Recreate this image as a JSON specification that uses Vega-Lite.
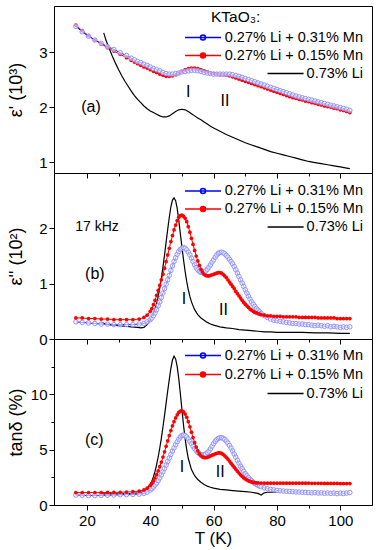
{
"$schema": "https://vega.github.io/schema/vega-lite/v6.json",
"padding": {"left": 6, "top": 5, "right": 5, "bottom": 2},
"spacing": 0,
"bounds": "flush",
"resolve": {"legend": {"color": "independent"}, "scale": {"color": "independent"}},
"config": {
  "view": {"stroke": "#000000", "strokeWidth": 1},
  "axis": {"grid": false, "domainColor": "#000000", "tickColor": "#000000", "labelColor": "#000000", "titleColor": "#000000", "labelFont": "Liberation Sans", "titleFont": "Liberation Sans", "labelFontSize": 15, "titleFontSize": 18, "titleFontWeight": "normal", "tickWidth": 1, "domainWidth": 1},
  "legend": {"labelFont": "Liberation Sans", "titleFont": "Liberation Sans", "labelColor": "#000000", "titleColor": "#000000", "labelFontSize": 14.5, "titleFontSize": 15.5, "titleFontWeight": "normal", "padding": 0, "rowPadding": 0, "symbolOffset": 0, "labelOffset": 2, "symbolSize": 1296, "symbolStrokeWidth": 1.5, "labelLimit": 200},
  "text": {"font": "Liberation Sans", "color": "#000000"}
},
"datasets": {
  "aB": [{"T":16.5,"v":3.47},{"T":18.5,"v":3.37},{"T":20.5,"v":3.29},{"T":22.5,"v":3.22},{"T":24.5,"v":3.16},{"T":26.5,"v":3.10},{"T":28.5,"v":3.05},{"T":30.5,"v":2.99},{"T":32.5,"v":2.94},{"T":34,"v":2.89},{"T":35,"v":2.86},{"T":36,"v":2.83},{"T":37,"v":2.81},{"T":38,"v":2.78},{"T":39,"v":2.76},{"T":40,"v":2.73},{"T":41,"v":2.70},{"T":42,"v":2.68},{"T":43,"v":2.66},{"T":44,"v":2.63},{"T":45,"v":2.61},{"T":46,"v":2.60},{"T":47,"v":2.60},{"T":48,"v":2.61},{"T":49,"v":2.62},{"T":50,"v":2.64},{"T":51,"v":2.65},{"T":52,"v":2.66},{"T":53,"v":2.67},{"T":54,"v":2.67},{"T":55,"v":2.66},{"T":56,"v":2.65},{"T":57,"v":2.63},{"T":58,"v":2.62},{"T":59,"v":2.61},{"T":60,"v":2.60},{"T":61,"v":2.60},{"T":62,"v":2.60},{"T":63,"v":2.60},{"T":64,"v":2.60},{"T":65,"v":2.60},{"T":66,"v":2.59},{"T":67,"v":2.575},{"T":68,"v":2.56},{"T":69,"v":2.54},{"T":70,"v":2.52},{"T":71,"v":2.50},{"T":72,"v":2.48},{"T":73,"v":2.46},{"T":74,"v":2.44},{"T":75,"v":2.42},{"T":76,"v":2.40},{"T":77,"v":2.38},{"T":78,"v":2.36},{"T":79,"v":2.34},{"T":80,"v":2.32},{"T":81,"v":2.30},{"T":82,"v":2.28},{"T":83,"v":2.26},{"T":84,"v":2.24},{"T":85,"v":2.22},{"T":86,"v":2.20},{"T":87,"v":2.185},{"T":88,"v":2.17},{"T":89,"v":2.155},{"T":90,"v":2.14},{"T":91,"v":2.125},{"T":92,"v":2.11},{"T":93,"v":2.095},{"T":94,"v":2.08},{"T":95,"v":2.065},{"T":96,"v":2.05},{"T":97,"v":2.035},{"T":98,"v":2.02},{"T":99,"v":2.005},{"T":100,"v":1.99},{"T":101,"v":1.975},{"T":102,"v":1.96},{"T":103,"v":1.94}],
  "aR": [{"T":16.5,"v":3.49},{"T":18.5,"v":3.39},{"T":20.5,"v":3.30},{"T":22.5,"v":3.22},{"T":24.5,"v":3.15},{"T":26.5,"v":3.08},{"T":28.5,"v":3.02},{"T":30.5,"v":2.96},{"T":32.5,"v":2.90},{"T":34,"v":2.85},{"T":35,"v":2.82},{"T":36,"v":2.79},{"T":37,"v":2.76},{"T":38,"v":2.73},{"T":39,"v":2.71},{"T":40,"v":2.68},{"T":41,"v":2.65},{"T":42,"v":2.63},{"T":43,"v":2.60},{"T":44,"v":2.58},{"T":45,"v":2.56},{"T":46,"v":2.56},{"T":47,"v":2.57},{"T":48,"v":2.59},{"T":49,"v":2.62},{"T":50,"v":2.65},{"T":51,"v":2.68},{"T":52,"v":2.70},{"T":53,"v":2.71},{"T":54,"v":2.71},{"T":55,"v":2.70},{"T":56,"v":2.68},{"T":57,"v":2.66},{"T":58,"v":2.64},{"T":59,"v":2.62},{"T":60,"v":2.61},{"T":61,"v":2.60},{"T":62,"v":2.59},{"T":63,"v":2.59},{"T":64,"v":2.58},{"T":65,"v":2.57},{"T":66,"v":2.55},{"T":67,"v":2.53},{"T":68,"v":2.51},{"T":69,"v":2.49},{"T":70,"v":2.47},{"T":71,"v":2.45},{"T":72,"v":2.43},{"T":73,"v":2.41},{"T":74,"v":2.39},{"T":75,"v":2.37},{"T":76,"v":2.35},{"T":77,"v":2.33},{"T":78,"v":2.31},{"T":79,"v":2.29},{"T":80,"v":2.27},{"T":81,"v":2.25},{"T":82,"v":2.23},{"T":83,"v":2.21},{"T":84,"v":2.19},{"T":85,"v":2.17},{"T":86,"v":2.16},{"T":87,"v":2.14},{"T":88,"v":2.13},{"T":89,"v":2.11},{"T":90,"v":2.10},{"T":91,"v":2.08},{"T":92,"v":2.07},{"T":93,"v":2.05},{"T":94,"v":2.04},{"T":95,"v":2.02},{"T":96,"v":2.01},{"T":97,"v":2.00},{"T":98,"v":1.98},{"T":99,"v":1.97},{"T":100,"v":1.95},{"T":101,"v":1.94},{"T":102,"v":1.92},{"T":103,"v":1.90}],
  "aK": [{"T":25.3,"v":3.35},{"T":26,"v":3.22},{"T":27,"v":3.07},{"T":28,"v":2.93},{"T":29,"v":2.80},{"T":30,"v":2.68},{"T":31,"v":2.57},{"T":32,"v":2.47},{"T":33,"v":2.38},{"T":34,"v":2.29},{"T":35,"v":2.21},{"T":36,"v":2.14},{"T":37,"v":2.08},{"T":38,"v":2.02},{"T":39,"v":1.97},{"T":40,"v":1.93},{"T":41,"v":1.90},{"T":42,"v":1.87},{"T":43,"v":1.84},{"T":44,"v":1.82},{"T":45,"v":1.82},{"T":46,"v":1.84},{"T":47,"v":1.88},{"T":48,"v":1.92},{"T":49,"v":1.95},{"T":50,"v":1.96},{"T":51,"v":1.95},{"T":52,"v":1.92},{"T":53,"v":1.88},{"T":54,"v":1.84},{"T":55,"v":1.80},{"T":56,"v":1.77},{"T":57,"v":1.73},{"T":58,"v":1.69},{"T":59,"v":1.65},{"T":60,"v":1.62},{"T":62,"v":1.56},{"T":64,"v":1.50},{"T":66,"v":1.45},{"T":68,"v":1.40},{"T":70,"v":1.35},{"T":72,"v":1.31},{"T":74,"v":1.27},{"T":76,"v":1.23},{"T":78,"v":1.19},{"T":80,"v":1.16},{"T":82,"v":1.13},{"T":84,"v":1.10},{"T":86,"v":1.07},{"T":88,"v":1.04},{"T":90,"v":1.01},{"T":92,"v":0.99},{"T":94,"v":0.97},{"T":96,"v":0.95},{"T":98,"v":0.93},{"T":100,"v":0.91},{"T":102,"v":0.89},{"T":103,"v":0.88}],
  "aT": [{"T":21.3,"v":2.0,"t":"(a)"},{"T":52,"v":2.28,"t":"I"},{"T":63.6,"v":2.11,"t":"II"}],
  "bB": [{"T":16.5,"v":0.31},{"T":18.5,"v":0.30},{"T":20.5,"v":0.29},{"T":22.5,"v":0.28},{"T":24.5,"v":0.27},{"T":26.5,"v":0.27},{"T":28.5,"v":0.26},{"T":30.5,"v":0.26},{"T":32.5,"v":0.26},{"T":34.5,"v":0.26},{"T":36.5,"v":0.27},{"T":38,"v":0.28},{"T":39,"v":0.31},{"T":40,"v":0.35},{"T":40.5,"v":0.38},{"T":41,"v":0.42},{"T":41.5,"v":0.47},{"T":42,"v":0.53},{"T":42.5,"v":0.60},{"T":43,"v":0.67},{"T":43.5,"v":0.75},{"T":44,"v":0.83},{"T":44.5,"v":0.91},{"T":45,"v":0.99},{"T":45.5,"v":1.07},{"T":46,"v":1.15},{"T":46.5,"v":1.24},{"T":47,"v":1.32},{"T":47.5,"v":1.40},{"T":48,"v":1.47},{"T":48.5,"v":1.53},{"T":49,"v":1.58},{"T":49.5,"v":1.62},{"T":50,"v":1.64},{"T":50.5,"v":1.65},{"T":51,"v":1.64},{"T":51.5,"v":1.61},{"T":52,"v":1.57},{"T":52.5,"v":1.52},{"T":53,"v":1.46},{"T":53.5,"v":1.40},{"T":54,"v":1.34},{"T":54.5,"v":1.29},{"T":55,"v":1.25},{"T":55.5,"v":1.22},{"T":56,"v":1.20},{"T":56.5,"v":1.20},{"T":57,"v":1.21},{"T":57.5,"v":1.23},{"T":58,"v":1.26},{"T":58.5,"v":1.30},{"T":59,"v":1.34},{"T":59.5,"v":1.39},{"T":60,"v":1.43},{"T":60.5,"v":1.48},{"T":61,"v":1.52},{"T":61.5,"v":1.55},{"T":62,"v":1.56},{"T":62.5,"v":1.57},{"T":63,"v":1.56},{"T":63.5,"v":1.54},{"T":64,"v":1.51},{"T":64.5,"v":1.48},{"T":65,"v":1.44},{"T":65.5,"v":1.40},{"T":66,"v":1.36},{"T":66.5,"v":1.31},{"T":67,"v":1.25},{"T":67.5,"v":1.19},{"T":68,"v":1.13},{"T":68.5,"v":1.07},{"T":69,"v":1.01},{"T":69.5,"v":0.95},{"T":70,"v":0.89},{"T":70.5,"v":0.83},{"T":71,"v":0.77},{"T":71.5,"v":0.72},{"T":72,"v":0.67},{"T":72.5,"v":0.63},{"T":73,"v":0.59},{"T":73.5,"v":0.55},{"T":74,"v":0.52},{"T":74.5,"v":0.49},{"T":75,"v":0.46},{"T":76,"v":0.42},{"T":77,"v":0.39},{"T":78,"v":0.36},{"T":79,"v":0.34},{"T":80,"v":0.33},{"T":81,"v":0.32},{"T":82,"v":0.31},{"T":83,"v":0.30},{"T":84,"v":0.29},{"T":85,"v":0.28},{"T":86,"v":0.28},{"T":87,"v":0.27},{"T":88,"v":0.27},{"T":89,"v":0.26},{"T":90,"v":0.26},{"T":91,"v":0.25},{"T":92,"v":0.24},{"T":93,"v":0.25},{"T":94,"v":0.24},{"T":95,"v":0.23},{"T":96,"v":0.24},{"T":97,"v":0.22},{"T":98,"v":0.23},{"T":99,"v":0.22},{"T":100,"v":0.21},{"T":101,"v":0.22},{"T":102,"v":0.21},{"T":103,"v":0.22}],
  "bR": [{"T":16.5,"v":0.38},{"T":18.5,"v":0.38},{"T":20.5,"v":0.37},{"T":22.5,"v":0.37},{"T":24.5,"v":0.36},{"T":26.5,"v":0.36},{"T":28.5,"v":0.35},{"T":30.5,"v":0.35},{"T":32.5,"v":0.35},{"T":34.5,"v":0.35},{"T":36.5,"v":0.36},{"T":38,"v":0.39},{"T":39,"v":0.43},{"T":40,"v":0.50},{"T":40.5,"v":0.55},{"T":41,"v":0.62},{"T":41.5,"v":0.70},{"T":42,"v":0.79},{"T":42.5,"v":0.88},{"T":43,"v":0.97},{"T":43.5,"v":1.07},{"T":44,"v":1.17},{"T":44.5,"v":1.28},{"T":45,"v":1.40},{"T":45.5,"v":1.52},{"T":46,"v":1.64},{"T":46.5,"v":1.76},{"T":47,"v":1.87},{"T":47.5,"v":1.97},{"T":48,"v":2.06},{"T":48.5,"v":2.14},{"T":49,"v":2.20},{"T":49.5,"v":2.23},{"T":50,"v":2.24},{"T":50.5,"v":2.22},{"T":51,"v":2.18},{"T":51.5,"v":2.12},{"T":52,"v":2.03},{"T":52.5,"v":1.93},{"T":53,"v":1.82},{"T":53.5,"v":1.71},{"T":54,"v":1.60},{"T":54.5,"v":1.50},{"T":55,"v":1.41},{"T":55.5,"v":1.33},{"T":56,"v":1.26},{"T":56.5,"v":1.21},{"T":57,"v":1.17},{"T":57.5,"v":1.15},{"T":58,"v":1.14},{"T":58.5,"v":1.14},{"T":59,"v":1.15},{"T":59.5,"v":1.16},{"T":60,"v":1.17},{"T":60.5,"v":1.18},{"T":61,"v":1.19},{"T":61.5,"v":1.20},{"T":62,"v":1.20},{"T":62.5,"v":1.19},{"T":63,"v":1.17},{"T":63.5,"v":1.14},{"T":64,"v":1.11},{"T":64.5,"v":1.07},{"T":65,"v":1.03},{"T":65.5,"v":0.99},{"T":66,"v":0.95},{"T":66.5,"v":0.91},{"T":67,"v":0.86},{"T":67.5,"v":0.82},{"T":68,"v":0.78},{"T":68.5,"v":0.74},{"T":69,"v":0.70},{"T":69.5,"v":0.66},{"T":70,"v":0.63},{"T":70.5,"v":0.60},{"T":71,"v":0.57},{"T":71.5,"v":0.54},{"T":72,"v":0.52},{"T":72.5,"v":0.50},{"T":73,"v":0.48},{"T":73.5,"v":0.47},{"T":74,"v":0.46},{"T":74.5,"v":0.45},{"T":75,"v":0.44},{"T":76,"v":0.43},{"T":77,"v":0.42},{"T":78,"v":0.42},{"T":79,"v":0.41},{"T":80,"v":0.41},{"T":81,"v":0.41},{"T":82,"v":0.40},{"T":83,"v":0.40},{"T":84,"v":0.40},{"T":85,"v":0.40},{"T":86,"v":0.40},{"T":87,"v":0.39},{"T":88,"v":0.39},{"T":89,"v":0.39},{"T":90,"v":0.39},{"T":91,"v":0.39},{"T":92,"v":0.39},{"T":93,"v":0.38},{"T":94,"v":0.38},{"T":95,"v":0.38},{"T":96,"v":0.38},{"T":97,"v":0.38},{"T":98,"v":0.38},{"T":99,"v":0.37},{"T":100,"v":0.37},{"T":101,"v":0.37},{"T":102,"v":0.37},{"T":103,"v":0.37}],
  "bK": [{"T":24.5,"v":0.30},{"T":26,"v":0.27},{"T":28,"v":0.25},{"T":30,"v":0.24},{"T":32,"v":0.23},{"T":34,"v":0.22},{"T":36,"v":0.21},{"T":37,"v":0.20},{"T":38,"v":0.21},{"T":39,"v":0.26},{"T":40,"v":0.34},{"T":41,"v":0.46},{"T":42,"v":0.64},{"T":42.5,"v":0.77},{"T":43,"v":0.92},{"T":43.5,"v":1.10},{"T":44,"v":1.30},{"T":44.5,"v":1.52},{"T":45,"v":1.75},{"T":45.5,"v":1.98},{"T":46,"v":2.20},{"T":46.5,"v":2.39},{"T":47,"v":2.51},{"T":47.5,"v":2.55},{"T":48,"v":2.50},{"T":48.5,"v":2.36},{"T":49,"v":2.14},{"T":49.5,"v":1.90},{"T":50,"v":1.66},{"T":50.5,"v":1.43},{"T":51,"v":1.22},{"T":51.5,"v":1.04},{"T":52,"v":0.89},{"T":52.5,"v":0.77},{"T":53,"v":0.67},{"T":54,"v":0.53},{"T":55,"v":0.44},{"T":56,"v":0.38},{"T":57,"v":0.34},{"T":58,"v":0.30},{"T":59,"v":0.27},{"T":60,"v":0.25},{"T":62,"v":0.22},{"T":64,"v":0.20},{"T":66,"v":0.19},{"T":68,"v":0.17},{"T":70,"v":0.16},{"T":72,"v":0.15},{"T":74,"v":0.14},{"T":76,"v":0.13},{"T":78,"v":0.13},{"T":80,"v":0.12},{"T":84,"v":0.12},{"T":88,"v":0.12},{"T":92,"v":0.11},{"T":96,"v":0.11},{"T":100,"v":0.10},{"T":103,"v":0.10}],
  "bT": [{"T":22.5,"v":1.17,"t":"(b)"},{"T":50.6,"v":0.73,"t":"I"},{"T":63.1,"v":0.53,"t":"II"}],
  "bF": [{"T":23.2,"v":2.02,"t":"17 kHz"}],
  "cB": [{"T":16.5,"v":0.90},{"T":18.5,"v":0.88},{"T":20.5,"v":0.85},{"T":22.5,"v":0.85},{"T":24.5,"v":0.87},{"T":26.5,"v":0.88},{"T":28.5,"v":0.90},{"T":30.5,"v":0.92},{"T":32.5,"v":0.93},{"T":34.5,"v":0.95},{"T":36.5,"v":0.98},{"T":38,"v":1.05},{"T":39,"v":1.17},{"T":40,"v":1.35},{"T":40.5,"v":1.48},{"T":41,"v":1.63},{"T":41.5,"v":1.80},{"T":42,"v":1.99},{"T":42.5,"v":2.21},{"T":43,"v":2.45},{"T":43.5,"v":2.72},{"T":44,"v":3.00},{"T":44.5,"v":3.30},{"T":45,"v":3.61},{"T":45.5,"v":3.93},{"T":46,"v":4.25},{"T":46.5,"v":4.57},{"T":47,"v":4.88},{"T":47.5,"v":5.17},{"T":48,"v":5.45},{"T":48.5,"v":5.72},{"T":49,"v":5.95},{"T":49.5,"v":6.15},{"T":50,"v":6.28},{"T":50.5,"v":6.32},{"T":51,"v":6.28},{"T":51.5,"v":6.15},{"T":52,"v":5.97},{"T":52.5,"v":5.76},{"T":53,"v":5.53},{"T":53.5,"v":5.30},{"T":54,"v":5.09},{"T":54.5,"v":4.90},{"T":55,"v":4.74},{"T":55.5,"v":4.63},{"T":56,"v":4.56},{"T":56.5,"v":4.53},{"T":57,"v":4.54},{"T":57.5,"v":4.60},{"T":58,"v":4.72},{"T":58.5,"v":4.88},{"T":59,"v":5.08},{"T":59.5,"v":5.32},{"T":60,"v":5.55},{"T":60.5,"v":5.75},{"T":61,"v":5.91},{"T":61.5,"v":6.02},{"T":62,"v":6.08},{"T":62.5,"v":6.08},{"T":63,"v":6.03},{"T":63.5,"v":5.93},{"T":64,"v":5.78},{"T":64.5,"v":5.60},{"T":65,"v":5.38},{"T":65.5,"v":5.14},{"T":66,"v":4.88},{"T":66.5,"v":4.60},{"T":67,"v":4.32},{"T":67.5,"v":4.04},{"T":68,"v":3.77},{"T":68.5,"v":3.51},{"T":69,"v":3.27},{"T":69.5,"v":3.04},{"T":70,"v":2.83},{"T":70.5,"v":2.64},{"T":71,"v":2.47},{"T":71.5,"v":2.32},{"T":72,"v":2.18},{"T":72.5,"v":2.06},{"T":73,"v":1.95},{"T":73.5,"v":1.86},{"T":74,"v":1.78},{"T":74.5,"v":1.71},{"T":75,"v":1.65},{"T":76,"v":1.55},{"T":77,"v":1.47},{"T":78,"v":1.41},{"T":79,"v":1.36},{"T":80,"v":1.32},{"T":81,"v":1.29},{"T":82,"v":1.26},{"T":83,"v":1.24},{"T":84,"v":1.22},{"T":85,"v":1.20},{"T":86,"v":1.18},{"T":87,"v":1.17},{"T":88,"v":1.15},{"T":89,"v":1.14},{"T":90,"v":1.12},{"T":91,"v":1.10},{"T":92,"v":1.12},{"T":93,"v":1.08},{"T":94,"v":1.10},{"T":95,"v":1.06},{"T":96,"v":1.09},{"T":97,"v":1.05},{"T":98,"v":1.08},{"T":99,"v":1.03},{"T":100,"v":1.07},{"T":101,"v":1.04},{"T":102,"v":1.08},{"T":103,"v":1.12}],
  "cR": [{"T":16.5,"v":1.12},{"T":18.5,"v":1.12},{"T":20.5,"v":1.12},{"T":22.5,"v":1.12},{"T":24.5,"v":1.12},{"T":26.5,"v":1.13},{"T":28.5,"v":1.14},{"T":30.5,"v":1.15},{"T":32.5,"v":1.17},{"T":34.5,"v":1.20},{"T":36.5,"v":1.25},{"T":38,"v":1.36},{"T":39,"v":1.52},{"T":40,"v":1.78},{"T":40.5,"v":1.96},{"T":41,"v":2.18},{"T":41.5,"v":2.44},{"T":42,"v":2.74},{"T":42.5,"v":3.08},{"T":43,"v":3.46},{"T":43.5,"v":3.88},{"T":44,"v":4.33},{"T":44.5,"v":4.81},{"T":45,"v":5.30},{"T":45.5,"v":5.79},{"T":46,"v":6.27},{"T":46.5,"v":6.73},{"T":47,"v":7.15},{"T":47.5,"v":7.53},{"T":48,"v":7.87},{"T":48.5,"v":8.15},{"T":49,"v":8.36},{"T":49.5,"v":8.48},{"T":50,"v":8.50},{"T":50.5,"v":8.42},{"T":51,"v":8.22},{"T":51.5,"v":7.92},{"T":52,"v":7.53},{"T":52.5,"v":7.07},{"T":53,"v":6.58},{"T":53.5,"v":6.09},{"T":54,"v":5.63},{"T":54.5,"v":5.23},{"T":55,"v":4.89},{"T":55.5,"v":4.62},{"T":56,"v":4.44},{"T":56.5,"v":4.34},{"T":57,"v":4.29},{"T":57.5,"v":4.28},{"T":58,"v":4.31},{"T":58.5,"v":4.36},{"T":59,"v":4.43},{"T":59.5,"v":4.50},{"T":60,"v":4.56},{"T":60.5,"v":4.62},{"T":61,"v":4.67},{"T":61.5,"v":4.70},{"T":62,"v":4.70},{"T":62.5,"v":4.66},{"T":63,"v":4.57},{"T":63.5,"v":4.45},{"T":64,"v":4.31},{"T":64.5,"v":4.15},{"T":65,"v":3.97},{"T":65.5,"v":3.78},{"T":66,"v":3.60},{"T":66.5,"v":3.42},{"T":67,"v":3.24},{"T":67.5,"v":3.06},{"T":68,"v":2.89},{"T":68.5,"v":2.73},{"T":69,"v":2.59},{"T":69.5,"v":2.46},{"T":70,"v":2.35},{"T":70.5,"v":2.26},{"T":71,"v":2.19},{"T":71.5,"v":2.13},{"T":72,"v":2.08},{"T":72.5,"v":2.05},{"T":73,"v":2.02},{"T":73.5,"v":2.00},{"T":74,"v":1.99},{"T":75,"v":1.98},{"T":76,"v":1.97},{"T":77,"v":1.97},{"T":78,"v":1.97},{"T":79,"v":1.97},{"T":80,"v":1.97},{"T":81,"v":1.97},{"T":82,"v":1.97},{"T":83,"v":1.97},{"T":84,"v":1.97},{"T":85,"v":1.97},{"T":86,"v":1.97},{"T":87,"v":1.97},{"T":88,"v":1.97},{"T":89,"v":1.97},{"T":90,"v":1.97},{"T":91,"v":1.96},{"T":92,"v":1.96},{"T":93,"v":1.96},{"T":94,"v":1.96},{"T":95,"v":1.95},{"T":96,"v":1.95},{"T":97,"v":1.95},{"T":98,"v":1.95},{"T":99,"v":1.95},{"T":100,"v":1.94},{"T":101,"v":1.94},{"T":102,"v":1.94},{"T":103,"v":1.94}],
  "cK": [{"T":25,"v":1.00},{"T":27,"v":1.00},{"T":29,"v":1.00},{"T":31,"v":1.00},{"T":33,"v":1.02},{"T":35,"v":1.05},{"T":36.5,"v":1.10},{"T":38,"v":1.22},{"T":39,"v":1.45},{"T":40,"v":1.85},{"T":40.5,"v":2.15},{"T":41,"v":2.55},{"T":41.5,"v":3.05},{"T":42,"v":3.65},{"T":42.5,"v":4.35},{"T":43,"v":5.15},{"T":43.5,"v":6.05},{"T":44,"v":7.05},{"T":44.5,"v":8.10},{"T":45,"v":9.20},{"T":45.5,"v":10.30},{"T":46,"v":11.35},{"T":46.5,"v":12.35},{"T":47,"v":13.10},{"T":47.5,"v":13.45},{"T":48,"v":13.20},{"T":48.5,"v":12.50},{"T":49,"v":11.40},{"T":49.5,"v":10.05},{"T":50,"v":8.60},{"T":50.5,"v":7.20},{"T":51,"v":6.00},{"T":51.5,"v":5.00},{"T":52,"v":4.20},{"T":53,"v":3.20},{"T":54,"v":2.65},{"T":55,"v":2.30},{"T":56,"v":2.05},{"T":57,"v":1.85},{"T":58,"v":1.70},{"T":59,"v":1.60},{"T":60,"v":1.52},{"T":62,"v":1.42},{"T":64,"v":1.36},{"T":66,"v":1.30},{"T":68,"v":1.25},{"T":70,"v":1.20},{"T":72,"v":1.15},{"T":73,"v":1.10},{"T":74,"v":1.05},{"T":75,"v":0.90},{"T":76,"v":1.10},{"T":77,"v":1.15},{"T":78,"v":1.15},{"T":79,"v":1.18},{"T":80,"v":1.15}],
  "cT": [{"T":22.3,"v":5.9,"t":"(c)"},{"T":50,"v":3.42,"t":"I"},{"T":62.1,"v":3.0,"t":"II"}]
},
"vconcat": [
  {
    "width": 318, "height": 167,
    "encoding": {
      "x": {"field": "T", "type": "quantitative", "scale": {"domain": [9.6, 110], "nice": false, "zero": false},
        "axis": {"values": [20,30,40,50,60,70,80,90,100], "labels": false, "title": null, "tickSize": {"condition": {"test": "datum.value % 20 === 0", "value": 5}, "value": 3}}},
      "y": {"field": "v", "type": "quantitative", "scale": {"domain": [0.8, 3.84], "nice": false, "zero": false},
        "axis": {"title": "ε' (10³)", "values": [1,1.5,2,2.5,3,3.5], "format": "d", "labelExpr": "datum.value % 1 === 0 ? datum.label : ''", "tickSize": {"condition": {"test": "datum.value % 1 === 0", "value": 5}, "value": 3}, "labelPadding": 2, "titleX": -38, "titleY": 83.5, "titleAngle": -90, "titleBaseline": "middle", "titleAlign": "center"}}
    },
    "layer": [
      {"data": {"name": "aK"}, "mark": {"type": "line", "strokeWidth": 1.2},
       "encoding": {"color": {"datum": "0.73% Li", "type": "nominal",
          "scale": {"domain": ["0.27% Li + 0.31% Mn", "0.27% Li + 0.15% Mn", "0.73% Li"], "range": ["#0000ff", "#ff0000", "#000000"]},
          "legend": {"orient": "none", "legendX": 131, "legendY": 4, "title": "KTaO₃:", "clipHeight": 18, "titlePadding": 3,
            "encode": {
              "symbols": {"update": {
                "shape": {"signal": "datum.value === '0.73% Li' ? 'stroke' : 'M-1,0L1,0M0.14,0A0.14,0.14,0,1,1,-0.14,0A0.14,0.14,0,1,1,0.14,0Z'"},
                "fill": {"signal": "datum.value === '0.73% Li' ? 'transparent' : (datum.value === '0.27% Li + 0.15% Mn' ? '#ff0000' : '#ffffff')"},
                "stroke": {"signal": "datum.value === '0.73% Li' ? '#000000' : (datum.value === '0.27% Li + 0.15% Mn' ? '#ff0000' : '#0000ff')"},
                "x": {"signal": "datum.value === '0.73% Li' ? 100.6 : 18"},
                "opacity": {"value": 1}}},
              "labels": {"update": {"align": {"value": "right"}, "dx": {"value": 138}}},
              "title": {"update": {"dx": {"value": 26}}}
            }}}}},
      {"data": {"name": "aR"}, "mark": {"type": "line", "strokeWidth": 1}, "encoding": {"color": {"datum": "0.27% Li + 0.15% Mn", "type": "nominal"}}},
      {"data": {"name": "aR"}, "mark": {"type": "point", "filled": true, "color": "#ff0000", "size": 14, "opacity": 1}},
      {"data": {"name": "aB"}, "mark": {"type": "line", "strokeWidth": 1}, "encoding": {"color": {"datum": "0.27% Li + 0.31% Mn", "type": "nominal"}}},
      {"data": {"name": "aB"}, "mark": {"type": "point", "fill": "#ffffff", "stroke": "#8f8fff", "fillOpacity": 0.6, "size": 20, "strokeWidth": 1, "opacity": 1}},
      {"data": {"name": "aT"}, "mark": {"type": "text", "fontSize": 16, "align": "center", "baseline": "middle"}, "encoding": {"text": {"field": "t"}}}
    ]
  },
  {
    "width": 318, "height": 166,
    "encoding": {
      "x": {"field": "T", "type": "quantitative", "scale": {"domain": [9.6, 110], "nice": false, "zero": false},
        "axis": {"values": [20,30,40,50,60,70,80,90,100], "labels": false, "title": null, "tickSize": {"condition": {"test": "datum.value % 20 === 0", "value": 5}, "value": 3}}},
      "y": {"field": "v", "type": "quantitative", "scale": {"domain": [0, 3], "nice": false, "zero": false},
        "axis": {"title": "ε'' (10²)", "values": [0,0.5,1,1.5,2,2.5], "format": "d", "labelExpr": "datum.value % 1 === 0 ? datum.label : ''", "tickSize": {"condition": {"test": "datum.value % 1 === 0", "value": 5}, "value": 3}, "labelPadding": 2, "titleX": -38, "titleY": 83, "titleAngle": -90, "titleBaseline": "middle", "titleAlign": "center"}}
    },
    "layer": [
      {"data": {"name": "bK"}, "mark": {"type": "line", "strokeWidth": 1.2},
       "encoding": {"color": {"datum": "0.73% Li", "type": "nominal",
          "scale": {"domain": ["0.27% Li + 0.31% Mn", "0.27% Li + 0.15% Mn", "0.73% Li"], "range": ["#0000ff", "#ff0000", "#000000"]},
          "legend": {"orient": "none", "legendX": 131, "legendY": 9, "title": null, "clipHeight": 18,
            "encode": {
              "symbols": {"update": {
                "shape": {"signal": "datum.value === '0.73% Li' ? 'stroke' : 'M-1,0L1,0M0.14,0A0.14,0.14,0,1,1,-0.14,0A0.14,0.14,0,1,1,0.14,0Z'"},
                "fill": {"signal": "datum.value === '0.73% Li' ? 'transparent' : (datum.value === '0.27% Li + 0.15% Mn' ? '#ff0000' : '#ffffff')"},
                "stroke": {"signal": "datum.value === '0.73% Li' ? '#000000' : (datum.value === '0.27% Li + 0.15% Mn' ? '#ff0000' : '#0000ff')"},
                "x": {"signal": "datum.value === '0.73% Li' ? 100.6 : 18"},
                "opacity": {"value": 1}}},
              "labels": {"update": {"align": {"value": "right"}, "dx": {"value": 138}}}
            }}}}},
      {"data": {"name": "bB"}, "mark": {"type": "line", "strokeWidth": 1}, "encoding": {"color": {"datum": "0.27% Li + 0.31% Mn", "type": "nominal"}}},
      {"data": {"name": "bB"}, "mark": {"type": "point", "fill": "#ffffff", "stroke": "#8f8fff", "fillOpacity": 0.6, "size": 20, "strokeWidth": 1, "opacity": 1}},
      {"data": {"name": "bR"}, "mark": {"type": "line", "strokeWidth": 1}, "encoding": {"color": {"datum": "0.27% Li + 0.15% Mn", "type": "nominal"}}},
      {"data": {"name": "bR"}, "mark": {"type": "point", "filled": true, "color": "#ff0000", "size": 14, "opacity": 1}},
      {"data": {"name": "bT"}, "mark": {"type": "text", "fontSize": 16, "align": "center", "baseline": "middle"}, "encoding": {"text": {"field": "t"}}},
      {"data": {"name": "bF"}, "mark": {"type": "text", "fontSize": 14, "align": "center", "baseline": "middle"}, "encoding": {"text": {"field": "t"}}}
    ]
  },
  {
    "width": 318, "height": 166,
    "encoding": {
      "x": {"field": "T", "type": "quantitative", "scale": {"domain": [9.6, 110], "nice": false, "zero": false},
        "axis": {"values": [20,30,40,50,60,70,80,90,100], "format": "d", "labelExpr": "datum.value % 20 === 0 ? datum.label : ''", "title": "T (K)", "titleFontSize": 17, "labelPadding": 3, "titlePadding": 2, "tickSize": {"condition": {"test": "datum.value % 20 === 0", "value": 5}, "value": 3}}},
      "y": {"field": "v", "type": "quantitative", "scale": {"domain": [0, 15], "nice": false, "zero": false},
        "axis": {"title": "tanδ (%)", "values": [0,2.5,5,7.5,10,12.5], "format": "d", "labelExpr": "datum.value % 5 === 0 ? datum.label : ''", "tickSize": {"condition": {"test": "datum.value % 5 === 0", "value": 5}, "value": 3}, "labelPadding": 2, "titleX": -38, "titleY": 83, "titleAngle": -90, "titleBaseline": "middle", "titleAlign": "center"}}
    },
    "layer": [
      {"data": {"name": "cK"}, "mark": {"type": "line", "strokeWidth": 1.2},
       "encoding": {"color": {"datum": "0.73% Li", "type": "nominal",
          "scale": {"domain": ["0.27% Li + 0.31% Mn", "0.27% Li + 0.15% Mn", "0.73% Li"], "range": ["#0000ff", "#ff0000", "#000000"]},
          "legend": {"orient": "none", "legendX": 131, "legendY": 7, "title": null, "clipHeight": 19,
            "encode": {
              "symbols": {"update": {
                "shape": {"signal": "datum.value === '0.73% Li' ? 'stroke' : 'M-1,0L1,0M0.14,0A0.14,0.14,0,1,1,-0.14,0A0.14,0.14,0,1,1,0.14,0Z'"},
                "fill": {"signal": "datum.value === '0.73% Li' ? 'transparent' : (datum.value === '0.27% Li + 0.15% Mn' ? '#ff0000' : '#ffffff')"},
                "stroke": {"signal": "datum.value === '0.73% Li' ? '#000000' : (datum.value === '0.27% Li + 0.15% Mn' ? '#ff0000' : '#0000ff')"},
                "x": {"signal": "datum.value === '0.73% Li' ? 100.6 : 18"},
                "opacity": {"value": 1}}},
              "labels": {"update": {"align": {"value": "right"}, "dx": {"value": 138}}}
            }}}}},
      {"data": {"name": "cB"}, "mark": {"type": "line", "strokeWidth": 1}, "encoding": {"color": {"datum": "0.27% Li + 0.31% Mn", "type": "nominal"}}},
      {"data": {"name": "cB"}, "mark": {"type": "point", "fill": "#ffffff", "stroke": "#8f8fff", "fillOpacity": 0.6, "size": 20, "strokeWidth": 1, "opacity": 1}},
      {"data": {"name": "cR"}, "mark": {"type": "line", "strokeWidth": 1}, "encoding": {"color": {"datum": "0.27% Li + 0.15% Mn", "type": "nominal"}}},
      {"data": {"name": "cR"}, "mark": {"type": "point", "filled": true, "color": "#ff0000", "size": 14, "opacity": 1}},
      {"data": {"name": "cT"}, "mark": {"type": "text", "fontSize": 16, "align": "center", "baseline": "middle"}, "encoding": {"text": {"field": "t"}}}
    ]
  }
]
}
